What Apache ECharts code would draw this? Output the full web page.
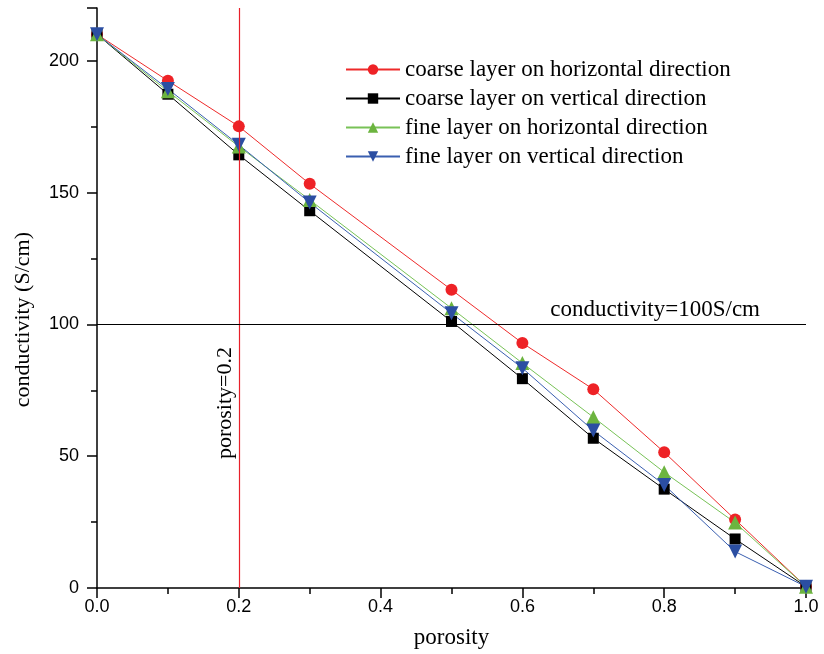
<!DOCTYPE html>
<html>
<head>
<meta charset="utf-8">
<script src="https://cdn.jsdelivr.net/npm/echarts@6/dist/echarts.min.js"></script>
<style>
  html, body { margin: 0; padding: 0; background: #fff; }
  #chart { width: 824px; height: 654px; }
</style>
</head>
<body>
<div id="chart"></div>
<script>
// porosity values (x)
const porosity = [0, 0.1, 0.2, 0.3, 0.5, 0.6, 0.7, 0.8, 0.9, 1.0];

// conductivity (S/cm)
const coarseHorizontal = [210, 192.4, 175.1, 153.3, 113.1, 92.9, 75.4, 51.5, 26.0, 0.5];
const coarseVertical   = [210, 187.3, 164.3, 143.1, 101.1, 79.4, 56.8, 37.5, 18.6, 0.5];
const fineHorizontal   = [210, 188.4, 167.5, 147.2, 106.1, 85.3, 64.8, 43.9, 24.8, 0.5];
const fineVertical     = [210, 189.3, 168.1, 146.2, 104.2, 83.4, 59.7, 39.1, 13.8, 0.5];

const seriesNames = [
    'coarse layer on horizontal direction',
    'coarse layer on vertical direction',
    'fine layer on horizontal direction',
    'fine layer on vertical direction'
];

const refPorosity = 0.2;
const refConductivity = 100;

function pairs(ys) {
    return porosity.map(function (x, i) { return [x, ys[i]]; });
}

const chart = echarts.init(document.getElementById('chart'));
const serif = 'Liberation Serif';
const sans = 'Liberation Sans';

const option = {
    animation: false,
    grid: { left: 97, right: 18, top: 8, bottom: 66 },
    legend: {
        orient: 'vertical',
        left: 340,
        top: 53,
        itemWidth: 54,
        itemHeight: 13,
        itemGap: 6,
        textStyle: { fontFamily: serif, fontSize: 23, color: '#000' },
        data: seriesNames
    },
    xAxis: {
        type: 'value',
        min: 0,
        max: 1,
        interval: 0.2,
        name: 'porosity',
        nameLocation: 'middle',
        nameGap: 38,
        nameTextStyle: { fontFamily: serif, fontSize: 23, color: '#000' },
        axisLine: { lineStyle: { color: '#000', width: 1.5 } },
        axisTick: { length: 10, lineStyle: { color: '#000', width: 1.5 } },
        minorTick: { show: true, splitNumber: 2, length: 6, lineStyle: { color: '#000', width: 1.5 } },
        axisLabel: {
            fontFamily: sans, fontSize: 18, color: '#000', margin: 10,
            formatter: function (v) { return v.toFixed(1); }
        },
        splitLine: { show: false }
    },
    yAxis: {
        type: 'value',
        min: 0,
        max: 220,
        interval: 50,
        axisLine: { show: true, lineStyle: { color: '#000', width: 1.5 } },
        axisTick: { show: true, length: 10, lineStyle: { color: '#000', width: 1.5 } },
        minorTick: { show: true, splitNumber: 2, length: 6, lineStyle: { color: '#000', width: 1.5 } },
        axisLabel: { fontFamily: sans, fontSize: 18, color: '#000', margin: 18, showMaxLabel: false },
        splitLine: { show: false }
    },
    series: [
        {
            name: seriesNames[0],
            type: 'line',
            data: pairs(coarseHorizontal),
            symbol: 'circle',
            symbolSize: 12,
            lineStyle: { color: '#ee2a2a', width: 1 },
            itemStyle: { color: '#ee2226' },
            markLine: {
                silent: true,
                symbol: 'none',
                label: { show: false },
                lineStyle: { color: '#e8202a', width: 1.2, type: 'solid', opacity: 1 },
                emphasis: { disabled: true },
                data: [{
                    xAxis: refPorosity,
                    lineStyle: { color: '#e8202a', width: 1.2, type: 'solid', opacity: 1 }
                }]
            }
        },
        {
            name: seriesNames[1],
            type: 'line',
            data: pairs(coarseVertical),
            symbol: 'rect',
            symbolSize: 11,
            lineStyle: { color: '#000', width: 1 },
            itemStyle: { color: '#000' },
            markLine: {
                silent: true,
                symbol: 'none',
                label: {
                    show: true,
                    position: 'insideEndTop',
                    formatter: 'conductivity=100S/cm',
                    fontFamily: serif, fontSize: 23, color: '#000',
                    distance: [46, 3]
                },
                data: [{
                    yAxis: refConductivity,
                    lineStyle: { color: '#000', width: 1, type: 'solid' }
                }]
            }
        },
        {
            name: seriesNames[2],
            type: 'line',
            data: pairs(fineHorizontal),
            symbol: 'triangle',
            symbolSize: 14,
            lineStyle: { color: '#78c257', width: 1 },
            itemStyle: { color: '#6cb43f' }
        },
        {
            name: seriesNames[3],
            type: 'line',
            data: pairs(fineVertical),
            symbol: 'triangle',
            symbolRotate: 180,
            symbolSize: 14,
            lineStyle: { color: '#3a5fb0', width: 1 },
            itemStyle: { color: '#2b4ea2' }
        }
    ],
    graphic: [
        {
            type: 'text',
            left: 12,
            top: 232,
            rotation: Math.PI / 2,
            style: {
                text: 'conductivity (S/cm)',
                fontFamily: serif,
                fontSize: 22,
                fill: '#000'
            }
        },
        {
            type: 'text',
            left: 214,
            top: 347,
            rotation: Math.PI / 2,
            style: {
                text: 'porosity=0.2',
                fontFamily: serif,
                fontSize: 22,
                fill: '#000'
            }
        }
    ]
};

chart.setOption(option);
</script>
</body>
</html>
